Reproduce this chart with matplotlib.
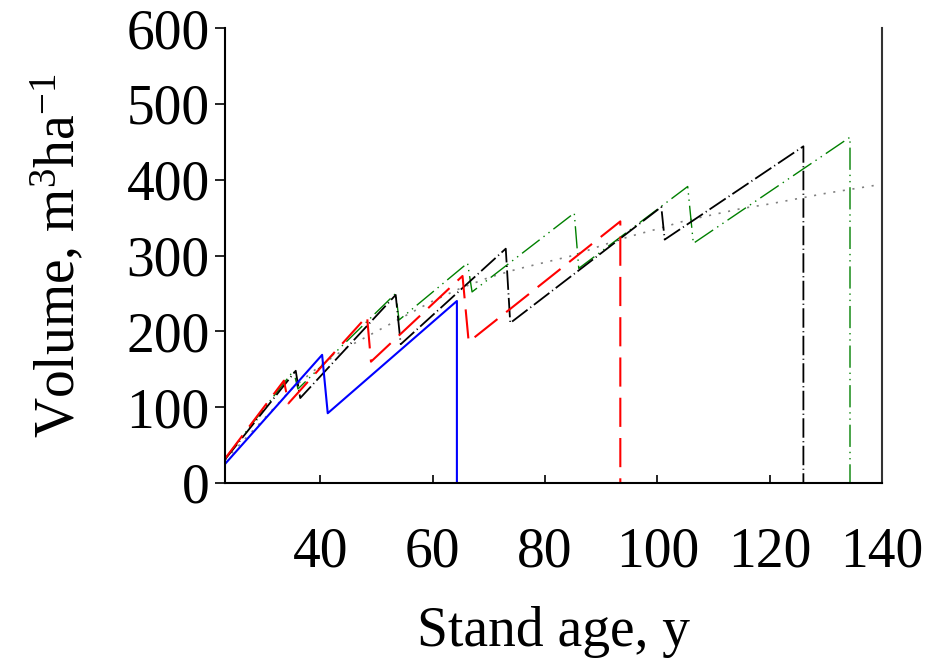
import matplotlib
matplotlib.use('Agg')
import matplotlib.pyplot as plt

# ---- data ----
blue_age = [23, 40.3, 41.3, 64.3, 64.3]
blue_vol = [25, 169, 92, 240, 0]

red_age = [23, 33.5, 34.3, 48.3, 49.0, 65.3, 66.4, 93.4, 93.4]
red_vol = [32, 135, 105, 220, 160, 273, 186, 345, 0]

black_age = [23, 35.6, 36.4, 53.4, 54.3, 73.0, 73.8, 100.7, 101.3, 126.0, 126.0]
black_vol = [31, 148, 112, 248, 183, 309, 211, 364, 321, 444, 0]

green_age = [23, 35.2, 36.0, 53.4, 54.0, 66.2, 67.0, 85.2, 86.0, 105.4, 106.4, 134.3, 134.3]
green_vol = [32, 148, 124, 250, 215, 290, 252, 356, 283, 391, 316, 456, 0]

gray_age = [23, 30, 35, 40, 45, 50, 55, 60, 65, 70, 75, 80, 85, 90, 95, 100,
            105, 110, 115, 120, 125, 130, 135, 140]
gray_vol = [30, 85, 125, 155, 180, 200, 220, 240, 257, 271, 282, 291, 300, 313,
            325, 335, 346, 354, 362, 368, 375, 382, 388, 394]

x_ticks = [40, 60, 80, 100, 120, 140]
y_ticks = [0, 100, 200, 300, 400, 500, 600]
x_label = "Stand age, y"
y_label = "Volume, m$^{3}$ha$^{-1}$"

# ---- style ----
plt.rcParams['font.family'] = ['Liberation Serif', 'DejaVu Serif']
plt.rcParams['mathtext.fontset'] = 'custom'
plt.rcParams['mathtext.rm'] = 'Liberation Serif'
plt.rcParams['mathtext.it'] = 'Liberation Serif:italic'
plt.rcParams['lines.scale_dashes'] = False

fig = plt.figure(figsize=(9.3, 6.61), dpi=100)
ax = fig.add_axes([0.2419, 0.2693, 0.9484 - 0.2419, 0.9576 - 0.2693])

ax.plot(gray_age, gray_vol, color='#808080', lw=1.2, dashes=(1.5, 5.5))
ax.plot(green_age, green_vol, color='#008000', lw=1.0,
        dashes=(16, 3.5, 1, 3.5, 1, 3.5))
ax.plot(black_age, black_vol, color='black', lw=1.3,
        dashes=(14, 2.5, 0.8, 2.5))
ax.plot(red_age, red_vol, color='#ff0000', lw=1.5, dashes=(21, 8))
ax.plot(blue_age, blue_vol, color='#0000ff', lw=1.5)

ax.set_xlim(23, 140)
ax.set_ylim(0, 600)
ax.set_xticks(x_ticks)
ax.set_yticks(y_ticks)
ax.tick_params(axis='x', direction='in', length=6, width=1.2, pad=31, labelsize=40)
ax.tick_params(axis='y', direction='out', length=7, width=1.2, pad=4, labelsize=40)

ax.spines['top'].set_visible(False)
for s in ['left', 'bottom', 'right']:
    ax.spines[s].set_linewidth(1.5)
ax.spines['right'].set_color('#333333')

ax.set_xlabel(x_label, fontsize=40, labelpad=20)
ax.set_ylabel(y_label, fontsize=40, labelpad=28)

fig.savefig('out.png', dpi=100)
